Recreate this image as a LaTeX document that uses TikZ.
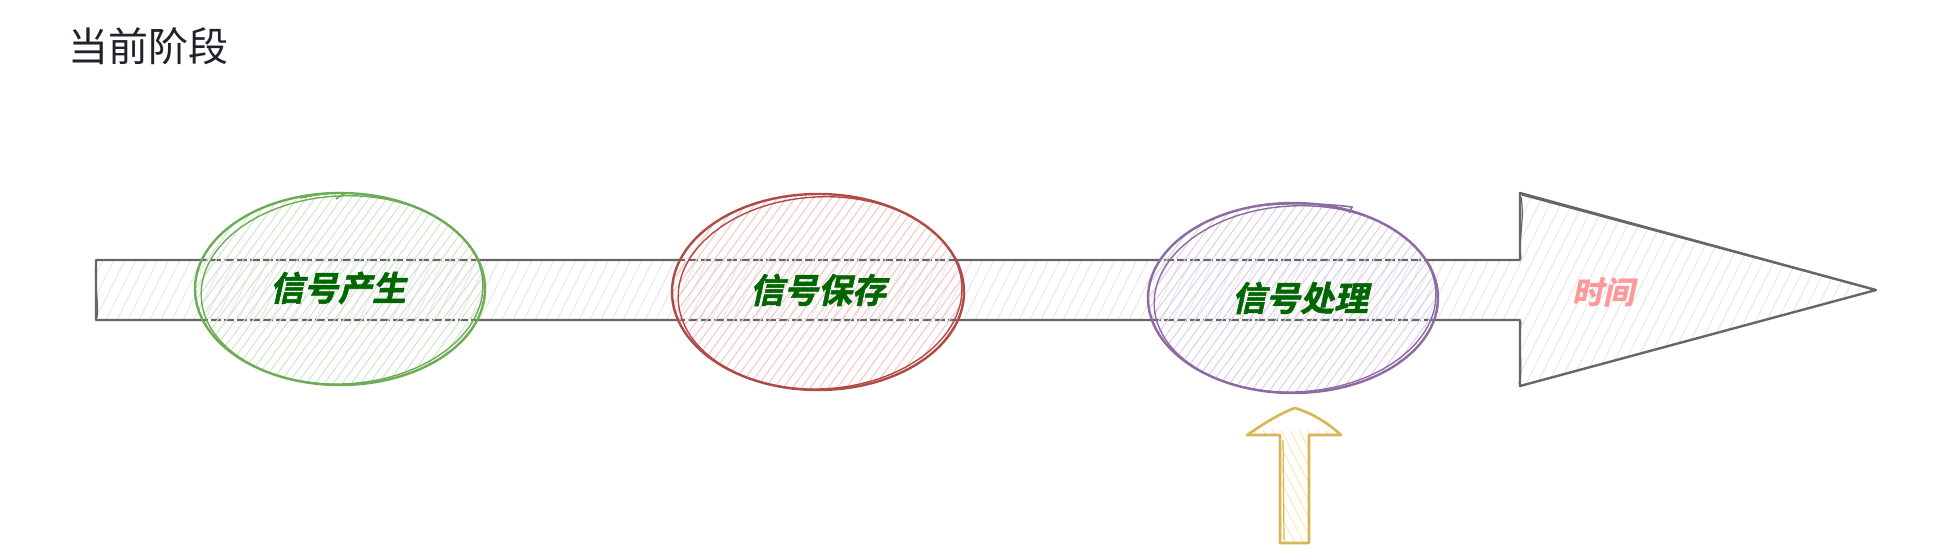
\documentclass[tikz,border=0pt]{standalone}
\usepackage{fontspec}
\newfontfamily\cjk{Noto Sans CJK SC}
\newfontfamily\cjkbi[FakeSlant=0.22,FakeBold=1.6]{Noto Sans CJK SC Bold}
\definecolor{titlecol}{HTML}{1F2329}
\definecolor{arrowline}{HTML}{666666}
\definecolor{arrowhatch}{HTML}{E8E8E8}
\definecolor{gline}{HTML}{6EAB55}
\definecolor{ghatch}{HTML}{CFE6CB}
\definecolor{rline}{HTML}{B04A46}
\definecolor{rhatch}{HTML}{F6C6C4}
\definecolor{pline}{HTML}{8E6AA3}
\definecolor{phatch}{HTML}{DDD0E6}
\definecolor{yline}{HTML}{D6B656}
\definecolor{yhatch}{HTML}{FBEAB4}
\definecolor{stagecol}{HTML}{006600}
\definecolor{timecol}{HTML}{FF9999}
\tikzset{
  outl/.style={line width=2.4pt, line join=round, line cap=round},
  hatchline/.style={line width=1pt},
  stagetext/.style={font=\cjkbi\fontsize{34}{40}\selectfont, text=stagecol, inner sep=0pt},
}
\begin{document}
\begin{tikzpicture}[x=1pt,y=-1pt]
\useasboundingbox (0,0) rectangle (1950,550);
\node[font=\cjk\fontsize{40}{46}\selectfont, text=titlecol, anchor=west, inner sep=0pt] (title) at (68,46) {当前阶段};
% big timeline arrow
\def\bigarrow{(96,260) -- (1520,260) -- (1520,193) -- (1876,290) -- (1520,386) -- (1520,320) -- (96,320) -- cycle}
\fill[white] \bigarrow;
\begin{scope}
  \clip \bigarrow;
  \foreach \i in {0,11,...,1900} \draw[hatchline, arrowhatch] (\i,400) -- (\i+110,180);
\end{scope}
\draw[outl, arrowline] \bigarrow;
\draw[line width=1.4pt, arrowline] (1522,195) -- (1868,288);
\draw[line width=1.2pt, arrowline] (96,262) .. controls (94,285) and (99,300) .. (97,318);
\draw[line width=1.2pt, arrowline] (1521,197) .. controls (1525,220) and (1518,240) .. (1521,258);
\draw[line width=1.2pt, arrowline] (1521,322) .. controls (1517,345) and (1524,365) .. (1519,384);
% ellipses
\foreach \cx/\cy/\rx/\ry/\lc/\hc in {340/289/145/96/gline/ghatch, 818/292/146/98/rline/rhatch, 1293/298/145/95/pline/phatch}{
  \begin{scope}
    \clip (\cx,\cy) ellipse [x radius=\rx, y radius=\ry];
    \foreach \i in {-460,-451,...,460} \draw[hatchline, \hc] (\cx+\i-80,\cy+110) -- (\cx+\i+80,\cy-110);
    \draw[line width=2.6pt, white, dash pattern=on 3pt off 10pt] (\cx-\rx,260) -- (\cx+\rx,260);
    \draw[line width=2.6pt, white, dash pattern=on 3pt off 10pt] (\cx-\rx,320) -- (\cx+\rx,320);
  \end{scope}
  \draw[outl, \lc] (\cx,\cy) ellipse [x radius=\rx, y radius=\ry];
  \draw[line width=1.4pt, \lc, rotate around={3:(\cx,\cy)}] (\cx+2,\cy+1) ellipse [x radius=\rx-4, y radius=\ry-2];
}
\draw[line width=1.6pt, gline] (300,198) .. controls (320,194) and (333,192) .. (345,193) -- (336,199);
\draw[line width=1.6pt, pline] (1255,206) .. controls (1290,202) and (1330,204) .. (1352,207) -- (1349,213);
% yellow pointer arrow
\def\yarrow{(1295,408) .. controls (1315,414) and (1330,425) .. (1341,435) -- (1309,435) -- (1309,543) -- (1280,543) -- (1280,435) -- (1247,435) .. controls (1262,425) and (1278,414) .. cycle}
\fill[white] \yarrow;
\begin{scope}
  \clip \yarrow;
  \foreach \i in {1200,1209,...,1400} \draw[hatchline, yhatch] (\i,430) -- (\i+60,545);
\end{scope}
\draw[line width=2.6pt, yline, line join=round] \yarrow;
\draw[line width=1.2pt, yline] (1283,440) -- (1284,540);
% labels
\node[stagetext] (s1) at (338,288) {信号产生};
\node[stagetext] (s2) at (818,290) {信号保存};
\node[stagetext] (s3) at (1300,298) {信号处理};
\node[font=\cjkbi\fontsize{31}{36}\selectfont, text=timecol, inner sep=0pt] (time) at (1603,292) {时间};
\end{tikzpicture}
\end{document}
